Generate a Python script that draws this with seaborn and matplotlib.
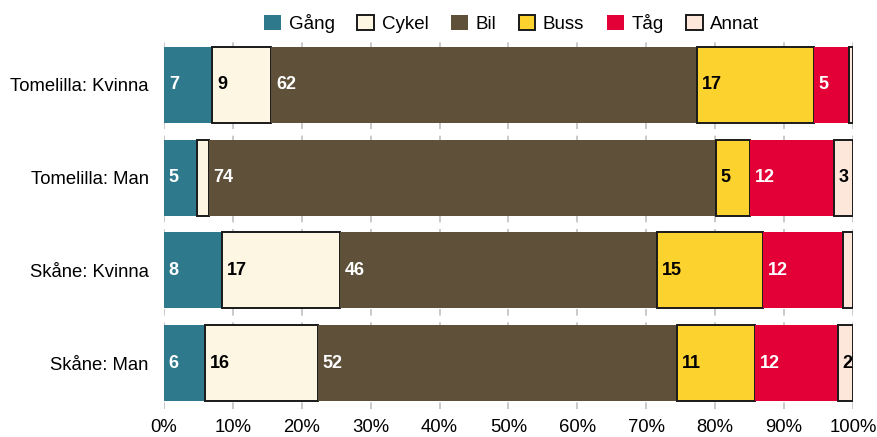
import numpy as np
import pandas as pd
import matplotlib
matplotlib.use("Agg")
import matplotlib.pyplot as plt
import seaborn as sns

# --- Data ---
groups = ["Tomelilla: Kvinna", "Tomelilla: Man", "Skåne: Kvinna", "Skåne: Man"]
modes = ["Gång", "Cykel", "Bil", "Buss", "Tåg", "Annat"]

gang = [7.0, 4.8, 8.4, 6.0]
cykel = [8.6, 1.7, 17.1, 16.3]
bil = [61.8, 73.6, 46.1, 52.1]
buss = [16.9, 4.9, 15.3, 11.4]
tag = [5.1, 12.2, 11.6, 12.0]
annat = [0.6, 2.8, 1.5, 2.2]

# --- Style ---
colors = ["#2E798C", "#FDF6E2", "#5E5039", "#FCD22E", "#E30036", "#FDE6DA"]
outlined = [False, True, False, True, False, True]
text_colors = ["white", "black", "white", "black", "white", "black"]

sns.set_theme(style="white")
plt.rcParams["font.family"] = ["Liberation Sans", "DejaVu Sans"]

df = pd.DataFrame({"group": groups, "Gång": gang, "Cykel": cykel, "Bil": bil,
                   "Buss": buss, "Tåg": tag, "Annat": annat})

fig, ax = plt.subplots(figsize=(8.77, 4.37), dpi=100)
fig.subplots_adjust(left=0.187, right=0.9726, top=0.912, bottom=0.063)

left = np.zeros(len(groups))
for i, m in enumerate(modes):
    vals = df[m].to_numpy()
    sns.barplot(data=df, y="group", x=m, order=groups, orient="h", ax=ax,
                color=colors[i], saturation=1, width=0.82, left=left,
                edgecolor="#1a1a1a" if outlined[i] else colors[i],
                linewidth=1.4 if outlined[i] else 0, label=m, zorder=3)
    for j, v in enumerate(vals):
        if v >= 2:
            ax.text(left[j] + 0.7, j, f"{int(round(v))}", va="center", ha="left",
                    color=text_colors[i], fontsize=13, fontweight="bold", zorder=5)
    left = left + vals

ax.set_xlim(0, 100)
ax.set_ylim(3.5, -0.5)
ax.set_xticks(np.arange(0, 101, 10))
ax.set_xticklabels([f"{t}%" for t in range(0, 101, 10)], fontsize=13.3)
ax.tick_params(axis="y", labelsize=13.3, length=0, pad=11, labelcolor="black")
ax.tick_params(axis="x", length=0, pad=7, labelcolor="black")
ax.set_xlabel("")
ax.set_ylabel("")
ax.xaxis.grid(True, color="#c0c0c0", linestyle=(0, (4, 4)), linewidth=1.2, zorder=0)
ax.set_axisbelow(True)
for s in ax.spines.values():
    s.set_visible(False)

leg = ax.legend(loc="lower center", bbox_to_anchor=(0.505, 0.995), ncol=6, frameon=False,
                fontsize=13.5, handlelength=0.9, handleheight=0.9, handletextpad=0.4,
                columnspacing=1.2, borderaxespad=0.0)
for t in leg.get_texts():
    t.set_color("black")

fig.savefig("out.png", dpi=100)
